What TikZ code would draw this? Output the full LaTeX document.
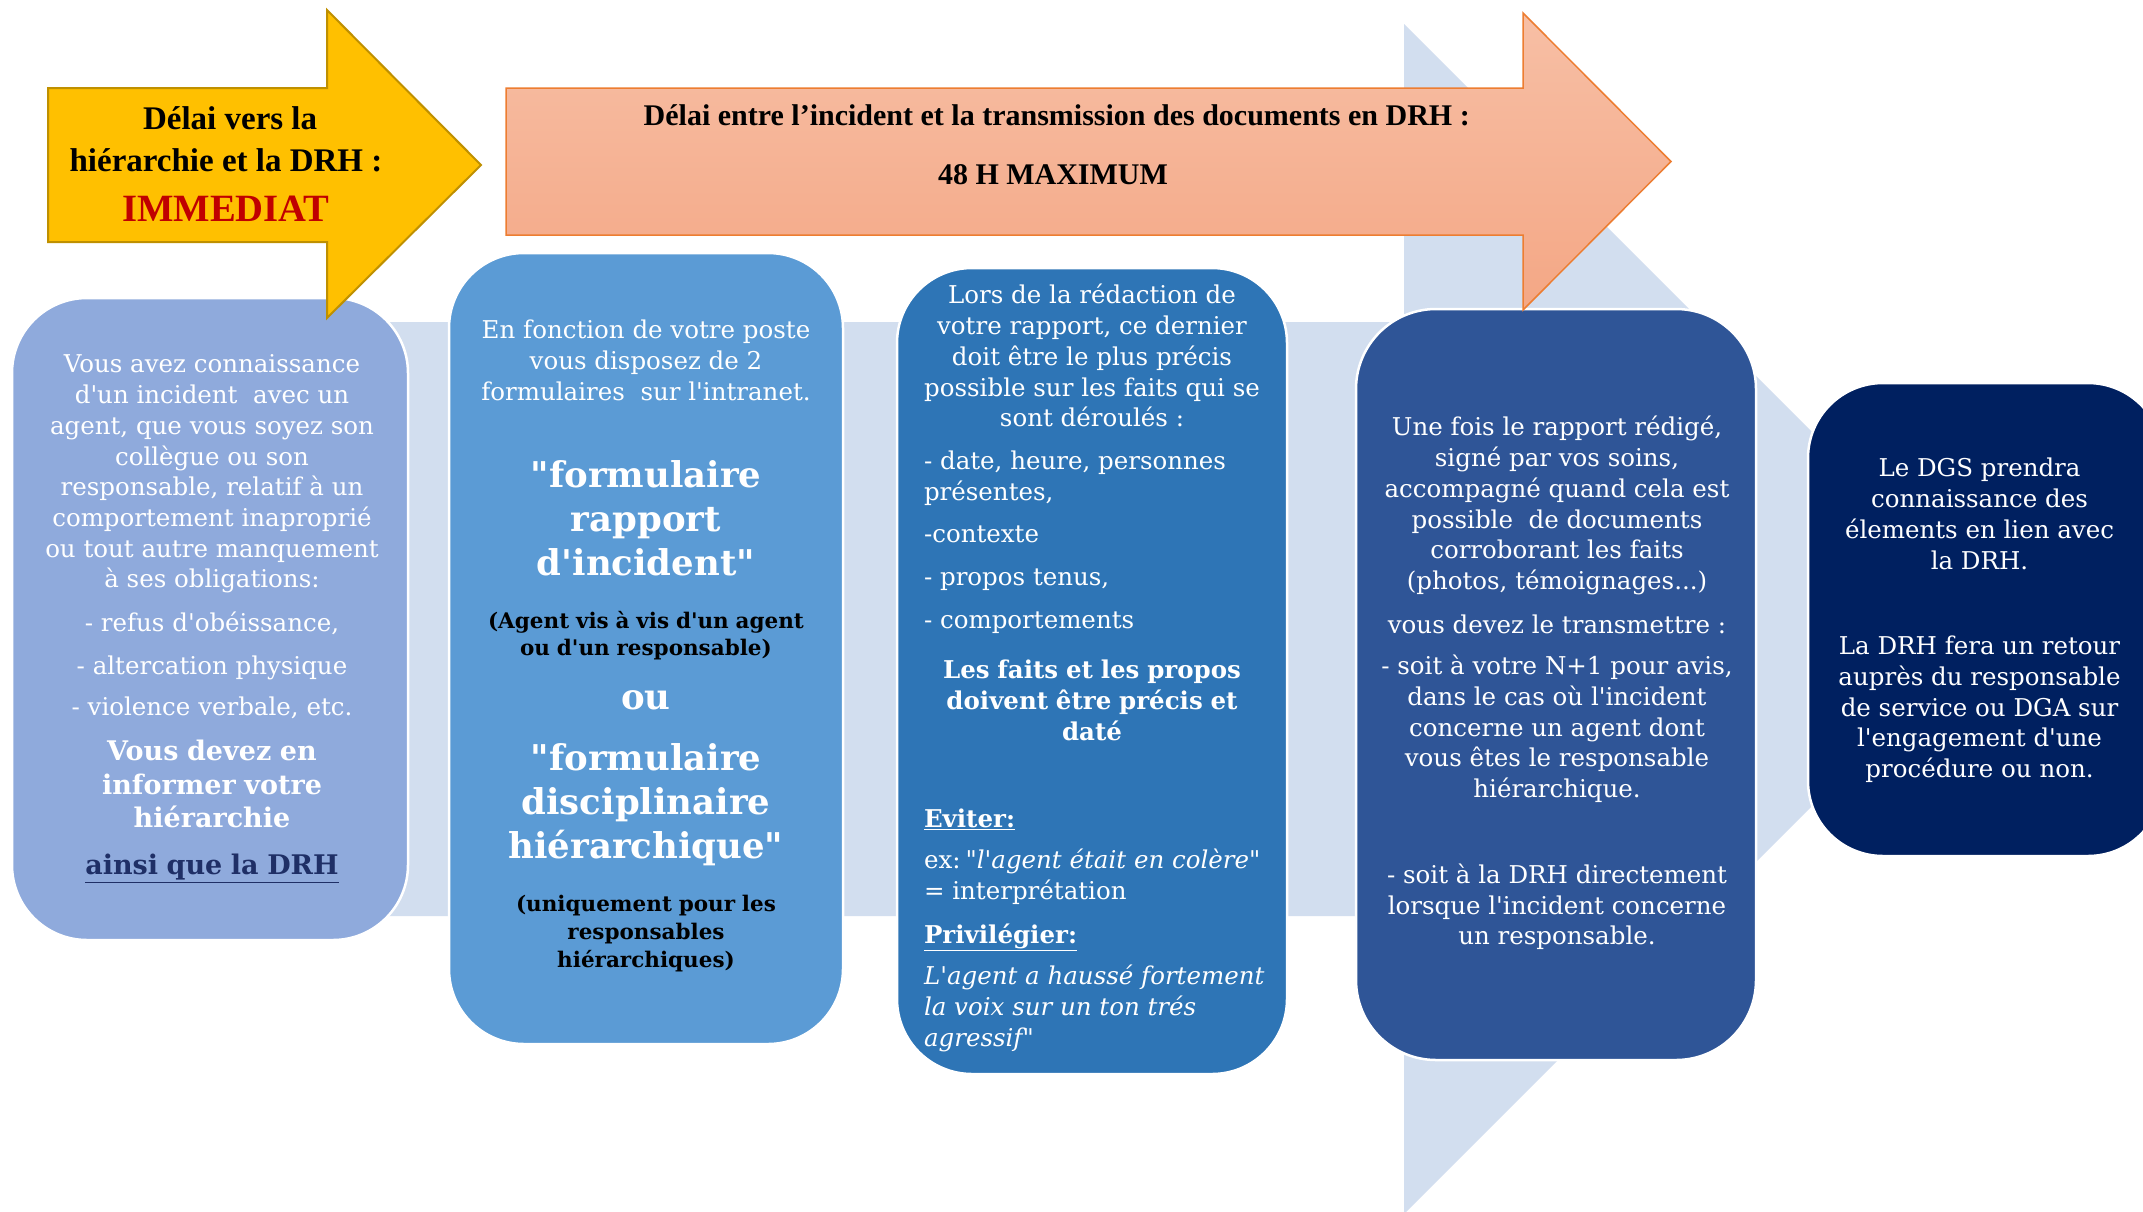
\documentclass[tikz,border=0pt]{standalone}
\usepackage{fontspec}
\setmainfont{DejaVu Serif}[Ligatures=TeXOff]
\newfontfamily\flechefont{Liberation Serif}
\usetikzlibrary{positioning}

\definecolor{fondbleu}{HTML}{D2DEEF}
\definecolor{etapeA}{HTML}{8FAADC}
\definecolor{etapeB}{HTML}{5B9BD5}
\definecolor{etapeC}{HTML}{2E75B6}
\definecolor{etapeD}{HTML}{2F5597}
\definecolor{etapeE}{HTML}{002060}
\definecolor{jaune}{HTML}{FFC000}
\definecolor{jauneBord}{HTML}{BF9000}
\definecolor{saumonHaut}{HTML}{F7BFA5}
\definecolor{saumonBas}{HTML}{F4A785}
\definecolor{orangeBord}{HTML}{ED7D31}
\definecolor{rougeDelai}{HTML}{C00000}
\definecolor{marine}{HTML}{1F2F66}

% taille du texte, interligne, espace entre les mots
\newcommand{\taille}[3][318]{\fontsize{#2}{#3}\selectfont
    \spaceskip=\dimexpr #2pt*#1/1000\relax plus 2pt minus 1pt\relax}
\newcommand{\corps}{\taille{24.5}{30.7}}
\newcommand{\saut}[1]{\par\vspace{#1pt}}

\tikzset{
    etape/.style={draw=white, line width=2.5pt, rounded corners=75pt, inner sep=0pt},
    texte/.style={anchor=north, inner sep=0pt, text=white},
}

\begin{document}
\begin{tikzpicture}[x=1pt, y=-1pt]
        \useasboundingbox (0,0) rectangle (2143,1211);
        \fill[white] (0,0) rectangle (2143,1211);
        \clip (0,0) rectangle (2143,1211);

        % Fond - grande fleche bleu clair
        \fill[fondbleu] (100,322) -- (1404,322) -- (1404,24) -- (1999,619)
            -- (1404,1214) -- (1404,916) -- (100,916) -- cycle;

        % Les cinq etapes
        \node[etape, fill=etapeA, minimum width=396pt, minimum height=642pt] (etape1) at (210,619) {};
        \node[etape, fill=etapeB, minimum width=394pt, minimum height=791pt] (etape2) at (646,648.5) {};
        \node[etape, fill=etapeC, minimum width=390pt, minimum height=806pt] (etape3) at (1092,671) {};
        \node[etape, fill=etapeD, minimum width=400pt, minimum height=751pt, rounded corners=80pt] (etape4) at (1556,684.5) {};
        \node[etape, fill=etapeE, minimum width=355pt, minimum height=473pt] (etape5) at (1985.5,619.5) {};

        % Etape 1 - signalement
        \node[texte, text width=385pt] (texte1) at ([xshift=2pt, yshift=-54pt]etape1.north) {\centering\corps
            \rule{0pt}{22pt}Vous avez connaissance\\
            d'un incident \ avec un\\
            agent, que vous soyez son\\
            collègue ou son\\
            responsable, relatif à un\\
            comportement inaproprié\\
            ou tout autre manquement\\
            à ses obligations:\saut{13}
            - refus d'obéissance,\saut{12}
            - altercation physique\saut{11}
            - violence verbale, etc.\par
            {\bfseries\taille{27}{33.5}\vspace{11.5pt}Vous devez en\\ informer votre\\ hiérarchie\par}
            {\bfseries\taille{27}{47}\color{marine}\underline{ainsi que la DRH}\par}};

        % Etape 2 - formulaires
        \node[texte, text width=380pt] (texte2) at ([yshift=-65pt]etape2.north) {\centering\corps
            \rule{0pt}{22pt}En fonction de votre poste\\
            vous disposez de 2\\
            formulaires \ sur l'intranet.\par
            {\bfseries\taille{35.5}{44}\vspace{43pt}"formulaire\\ rapport\\ d'incident"\par}
            {\bfseries\taille{21.5}{27}\color{black}\vspace{26pt}(Agent vis à vis d'un agent\\ ou d'un responsable)\par}
            {\bfseries\taille{35.5}{54}ou\par}
            {\bfseries\taille{35.5}{44}\vspace{17pt}"formulaire\\ disciplinaire\\ hiérarchique"\par}
            {\bfseries\taille{21.5}{28}\color{black}\vspace{25pt}(uniquement pour les\\ responsables\\ hiérarchiques)\par}};

        % Etape 3 - redaction du rapport
        \node[texte, text width=360pt] (texte3) at ([yshift=-15pt]etape3.north) {\centering\corps
            \rule{0pt}{22pt}Lors de la rédaction de\\
            votre rapport, ce dernier\\
            doit être le plus précis\\
            possible sur les faits qui se\\
            sont déroulés :\par
            {\raggedright\leftskip=12pt\vspace{12pt}- date, heure, personnes\\ présentes,\saut{12}-contexte\saut{12}- propos tenus,\saut{12}- comportements\par}
            {\bfseries\corps\vspace{20pt}Les faits et les propos\\ doivent être précis et\\ daté\par}
            {\raggedright\leftskip=12pt\vspace{56pt}{\bfseries\corps\underline{Eviter:}}\saut{11}
            ex: \textit{\corps"l'agent était en colère"}\\ = interprétation\saut{13}
            {\bfseries\corps\underline{Privilégier:}}\saut{11}
            \itshape\corps L'agent a haussé fortement\\ la voix sur un ton trés\\ agressif"\par}};

        % Etape 4 - transmission
        \node[texte, text width=385pt] (texte4) at ([xshift=1pt, yshift=-106pt]etape4.north) {\centering\corps
            \rule{0pt}{22pt}Une fois le rapport rédigé,\\
            signé par vos soins,\\
            accompagné quand cela est\\
            possible \ de documents\\
            corroborant les faits\\
            (photos, témoignages...)\saut{13}
            vous devez le transmettre :\saut{11}
            - soit à votre N+1 pour avis,\\
            dans le cas où l'incident\\
            concerne un agent dont\\
            vous êtes le responsable\\
            hiérarchique.\saut{55}
            - soit à la DRH directement\\
            lorsque l'incident concerne\\
            un responsable.\par};

        % Etape 5 - DGS et DRH
        \node[texte, text width=340pt] (texte5) at ([xshift=-6pt, yshift=-73pt]etape5.north) {\centering\corps
            \rule{0pt}{22pt}Le DGS prendra\\
            connaissance des\\
            élements en lien avec\\
            la DRH.\saut{55}
            La DRH fera un retour\\
            auprès du responsable\\
            de service ou DGA sur\\
            l'engagement d'une\\
            procédure ou non.\par};

        % Delai vers la hierarchie
        \draw[jauneBord, fill=jaune, line width=2pt] (48,88) -- (327,88) -- (327,10) -- (481,165)
            -- (327,318) -- (327,242) -- (48,242) -- cycle;
        \node[texte, text=black, text width=380pt] (delai1) at (226,104) {\centering
            \flechefont\bfseries\taille[250]{33}{42}
            \rule{0pt}{25pt}Délai vers la\\ hiérarchie et la DRH :\par
            {\taille[250]{38.6}{50}\color{rougeDelai}IMMEDIAT\par}};

        % Delai de transmission en DRH
        \draw[orangeBord, line width=1.5pt, top color=saumonHaut, bottom color=saumonBas]
            (506,88) -- (1523,88) -- (1523,13) -- (1671,161.5) -- (1523,310)
            -- (1523,235) -- (506,235) -- cycle;
        \node[texte, text=black, text width=1000pt] (delai2) at (1053,100) {\centering
            \flechefont\bfseries\taille[250]{30}{59}
            \rule{0pt}{25pt}Délai entre l’incident et la transmission des documents en DRH :\\
            48 H MAXIMUM\par};
    \end{tikzpicture}
\end{document}
